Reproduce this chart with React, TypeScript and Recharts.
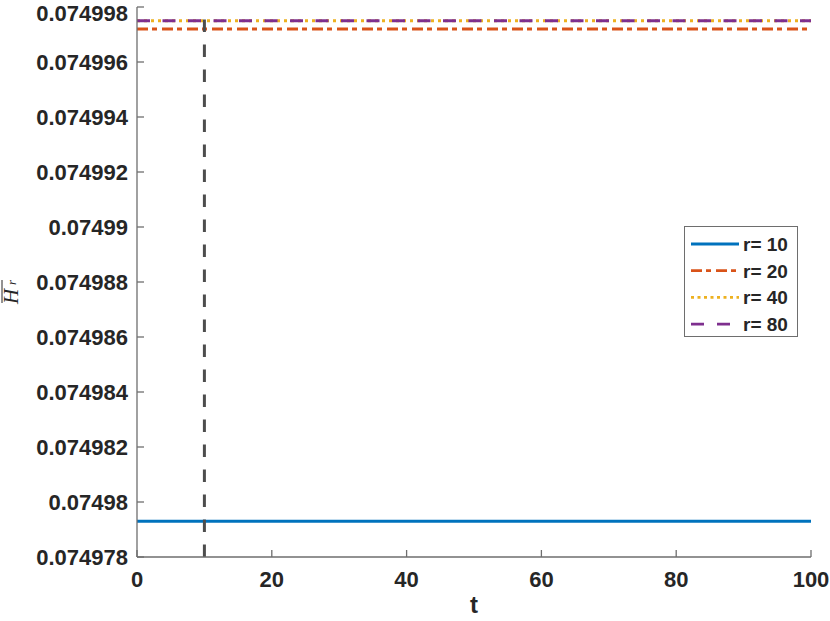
import { LineChart, Line, XAxis, YAxis, ReferenceLine, Legend } from "recharts";

// horizontal levels of each r
const tValues = [0, 100];
const r10 = [0.0749793, 0.0749793];
const r20 = [0.0749972, 0.0749972];
const r40 = [0.0749975, 0.0749975];
const r80 = [0.0749975, 0.0749975];

const seriesNames = ["r= 10", "r= 20", "r= 40", "r= 80"];
const seriesKeys = ["r10", "r20", "r40", "r80"];

const xTicks = [0, 20, 40, 60, 80, 100];
const yTicks = [
  0.074978, 0.07498, 0.074982, 0.074984, 0.074986, 0.074988, 0.07499, 0.074992,
  0.074994, 0.074996, 0.074998,
];
const markerT = 10;

const data = tValues.map((t, i) => ({
  t,
  r10: r10[i],
  r20: r20[i],
  r40: r40[i],
  r80: r80[i],
}));

const STYLE: Record<string, { color: string; dash?: string; legendDash?: string }> = {
  r10: { color: "#0072BD" },
  r20: { color: "#D95319", dash: "11 4 5 5", legendDash: "11 4 5 5" },
  r40: { color: "#EDB120", dash: "3 4", legendDash: "3 3.5" },
  r80: { color: "#7E2F8E", dash: "13 12.5", legendDash: "13 13" },
};

const AXIS = "#6e6e6e";
const TEXT = "#262626";
const FONT = "'Liberation Sans', Arial, Helvetica, sans-serif";
const SERIF = "'Liberation Serif', 'DejaVu Serif', serif";

const tickStyle = { fill: TEXT, fontSize: 22, fontWeight: 700, fontFamily: FONT };
const fmtY = (v: number) => String(+v.toFixed(6));

function LegendBox() {
  return (
    <div
      style={{
        width: 112,
        height: 109,
        border: `1px solid ${AXIS}`,
        background: "#fff",
      }}
    >
      <svg width={112} height={109}>
        {seriesKeys.map((k, i) => {
          const y = 17 + i * 26.7;
          return (
            <g key={k}>
              <line
                x1={6}
                x2={54}
                y1={y}
                y2={y}
                stroke={STYLE[k].color}
                strokeWidth={2.8}
                strokeDasharray={STYLE[k].legendDash}
              />
              <text
                x={58}
                y={y + 7}
                fill={TEXT}
                fontSize={19}
                fontWeight={700}
                fontFamily={FONT}
              >
                {seriesNames[i]}
              </text>
            </g>
          );
        })}
      </svg>
    </div>
  );
}

function YLabel() {
  return (
    <g transform="translate(18, 304) rotate(-90)">
      <line x1={1} x2={24} y1={-16} y2={-16} stroke={TEXT} strokeWidth={1} />
      <text x={0} y={0} fill={TEXT} fontSize={21} fontStyle="italic" fontFamily={SERIF}>
        H
      </text>
      <text x={19} y={-2} fill={TEXT} fontSize={13} fontStyle="italic" fontFamily={SERIF}>
        r
      </text>
    </g>
  );
}

export default function App() {
  return (
    <div style={{ position: "absolute", left: 0, top: 0, background: "#fff" }}>
      <LineChart
        width={830}
        height={621}
        data={data}
        margin={{ top: 7, right: 19, bottom: 0, left: 0 }}
      >
        <XAxis
          dataKey="t"
          type="number"
          domain={[0, 100]}
          ticks={xTicks}
          height={64}
          tickSize={-7}
          tickMargin={21}
          axisLine={{ stroke: AXIS, strokeWidth: 1.3 }}
          tickLine={{ stroke: AXIS, strokeWidth: 1.3 }}
          tick={tickStyle}
          label={{
            value: "t",
            position: "insideBottom",
            offset: 8,
            fill: TEXT,
            fontSize: 24,
            fontWeight: 700,
            fontFamily: FONT,
          }}
        />
        <XAxis
          xAxisId="top"
          orientation="top"
          dataKey="t"
          type="number"
          domain={[0, 100]}
          ticks={xTicks}
          height={0}
          tickSize={-7}
          axisLine={{ stroke: AXIS, strokeWidth: 1.3 }}
          tickLine={{ stroke: AXIS, strokeWidth: 1.3 }}
          tickFormatter={() => ""}
        />
        <YAxis
          type="number"
          domain={[0.074978, 0.074998]}
          ticks={yTicks}
          allowDataOverflow
          width={137}
          tickSize={-7}
          tickMargin={16}
          axisLine={{ stroke: AXIS, strokeWidth: 1.3 }}
          tickLine={{ stroke: AXIS, strokeWidth: 1.3 }}
          tick={tickStyle}
          tickFormatter={fmtY}
          label={{ content: () => <YLabel /> }}
        />
        <YAxis
          yAxisId="right"
          orientation="right"
          type="number"
          domain={[0.074978, 0.074998]}
          ticks={yTicks}
          allowDataOverflow
          width={0}
          tickSize={-7}
          axisLine={{ stroke: AXIS, strokeWidth: 1.3 }}
          tickLine={{ stroke: AXIS, strokeWidth: 1.3 }}
          tickFormatter={() => ""}
        />
        {seriesKeys.map((k, i) => (
          <Line
            key={k}
            dataKey={k}
            name={seriesNames[i]}
            stroke={STYLE[k].color}
            strokeWidth={2.8}
            strokeDasharray={STYLE[k].dash}
            dot={false}
            activeDot={false}
            isAnimationActive={false}
          />
        ))}
        <ReferenceLine
          x={markerT}
          stroke="#4d4d4d"
          strokeWidth={3}
          strokeDasharray="12.5 12.5"
        />
        <Legend
          layout="vertical"
          align="center"
          verticalAlign="middle"
          content={() => <LegendBox />}
          wrapperStyle={{ left: 684, top: 226, width: 114, height: 111 }}
        />
      </LineChart>
    </div>
  );
}
